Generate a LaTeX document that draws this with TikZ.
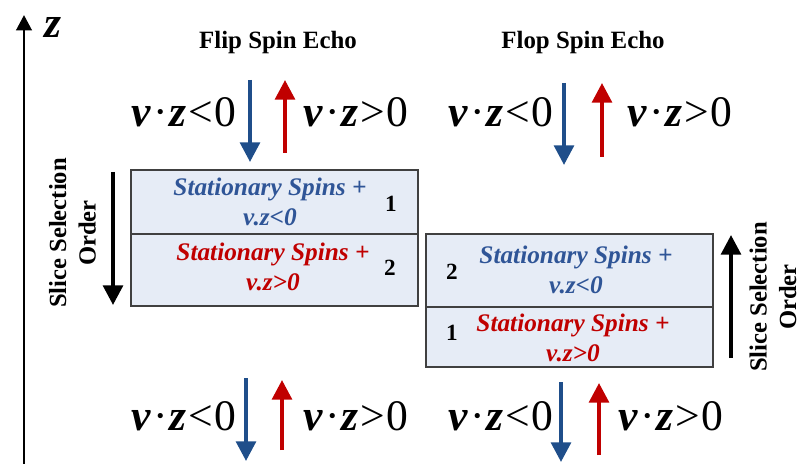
\documentclass[tikz,border=0pt]{standalone}
\usepackage{fontspec}
\setmainfont{Liberation Serif}
\usepackage{tikz}
\usetikzlibrary{arrows.meta,positioning}
\definecolor{spinblue}{HTML}{1F4E8A}
\definecolor{spinred}{HTML}{C00000}
\definecolor{noteblue}{HTML}{2F5597}
\definecolor{cellfill}{HTML}{E6ECF6}
\definecolor{cellline}{HTML}{404040}
\newcommand{\vzrel}[1]{{\bfseries\itshape v}\kern1.5pt·\kern1.5pt{\bfseries\itshape z}\kern1pt#1\kern1pt0}
\tikzset{
  cellbox/.style={
    rectangle, draw=cellline, fill=cellfill, line width=1pt,
    minimum width=7.175cm, minimum height=#1, inner sep=0pt
  },
  spinarrow/.style={
    -{Triangle[width=14pt,length=14pt]}, line width=2.8pt, color=#1
  },
  spinarrow/.default=spinblue,
  vzlabel/.style={
    font=\fontsize{31}{31}\selectfont, anchor=base, inner sep=0pt
  },
  headlabel/.style={
    font=\fontsize{17.7}{20}\selectfont\bfseries
  },
  cellnote/.style={
    font=\fontsize{18}{21}\selectfont\bfseries\itshape, align=center, text=#1
  },
  cellnum/.style={
    font=\fontsize{16.5}{18}\selectfont\bfseries
  },
  orderlabel/.style={
    font=\fontsize{17.5}{21}\selectfont\bfseries, align=center, rotate=90,
    inner sep=1pt
  },
}

\begin{document}
\begin{tikzpicture}[x=0.025cm, y=-0.025cm]
  \useasboundingbox (0,0) rectangle (801,464);

  % z axis
  \coordinate (zfoot) at (24,464);
  \coordinate (ztip) at (24,15);
  \draw[-{Triangle[width=11pt,length=11pt]}, line width=2.1pt] (zfoot) -- (ztip);
  \node[font=\fontsize{31}{31}\selectfont\bfseries\itshape] (zlab) at (53,28) {z};

  % titles
  \node[headlabel] (fliptitle) at (278,43) {Flip Spin Echo};
  \node[headlabel] (floptitle) at (583,43) {Flop Spin Echo};

  % top labels and arrows
  \node[vzlabel] (fliptopneg) at (184,127) {\vzrel{<}};
  \node[vzlabel] (fliptoppos) at (356,127) {\vzrel{>}};
  \node[vzlabel] (floptopneg) at (501,127) {\vzrel{<}};
  \node[vzlabel] (floptoppos) at (680,127) {\vzrel{>}};
  \coordinate (fa1) at (250,80);  \coordinate (fa2) at (250,162);
  \coordinate (fb1) at (285,153); \coordinate (fb2) at (285,80);
  \coordinate (ga1) at (564,83);  \coordinate (ga2) at (564,165);
  \coordinate (gb1) at (602,157); \coordinate (gb2) at (602,83);
  \draw[spinarrow] (fa1) -- (fa2);
  \draw[spinarrow=spinred] (fb1) -- (fb2);
  \draw[spinarrow] (ga1) -- (ga2);
  \draw[spinarrow=spinred] (gb1) -- (gb2);

  % flip slices
  \node[cellbox=1.6cm] (flipone) at (274.5,202) {};
  \node[cellbox=1.8cm] (fliptwo) at (274.5,270) {};
  \node[cellnote=noteblue] (flipnoteone) at (270,202) {Stationary Spins +\\v.z<0};
  \node[cellnote=spinred] (flipnotetwo) at (273,267) {Stationary Spins +\\v.z>0};
  \node[cellnum] (flipnumone) at (391,204) {1};
  \node[cellnum] (flipnumtwo) at (390,268) {2};

  % flop slices
  \node[cellbox=1.825cm] (flopone) at (569.5,270.5) {};
  \node[cellbox=1.5cm] (floptwo) at (569.5,337) {};
  \node[cellnote=noteblue] (flopnoteone) at (576,270) {Stationary Spins +\\v.z<0};
  \node[cellnote=spinred] (flopnotetwo) at (573,338) {Stationary Spins +\\v.z>0};
  \node[cellnum] (flopnumtwo) at (452,272) {2};
  \node[cellnum] (flopnumone) at (452,333) {1};

  % slice selection order
  \coordinate (la1) at (113,172); \coordinate (la2) at (113,305);
  \coordinate (ra1) at (731,358); \coordinate (ra2) at (731,235);
  \draw[spinarrow=black] (la1) -- (la2);
  \draw[spinarrow=black] (ra1) -- (ra2);
  \node[orderlabel] (leftorder) at (72.5,233) {Slice Selection\\Order};
  \node[orderlabel] (rightorder) at (773,297) {Slice Selection\\Order};

  % bottom labels and arrows
  \node[vzlabel] (flipbotneg) at (184,430) {\vzrel{<}};
  \node[vzlabel] (flipbotpos) at (356,430) {\vzrel{>}};
  \node[vzlabel] (flopbotneg) at (501,430) {\vzrel{<}};
  \node[vzlabel] (flopbotpos) at (671,430) {\vzrel{>}};
  \coordinate (ha1) at (246,378); \coordinate (ha2) at (246,461);
  \coordinate (hb1) at (282,450); \coordinate (hb2) at (282,380);
  \coordinate (ka1) at (561,382); \coordinate (ka2) at (561,462);
  \coordinate (kb1) at (599,455); \coordinate (kb2) at (599,383);
  \draw[spinarrow] (ha1) -- (ha2);
  \draw[spinarrow=spinred] (hb1) -- (hb2);
  \draw[spinarrow] (ka1) -- (ka2);
  \draw[spinarrow=spinred] (kb1) -- (kb2);
\end{tikzpicture}
\end{document}
